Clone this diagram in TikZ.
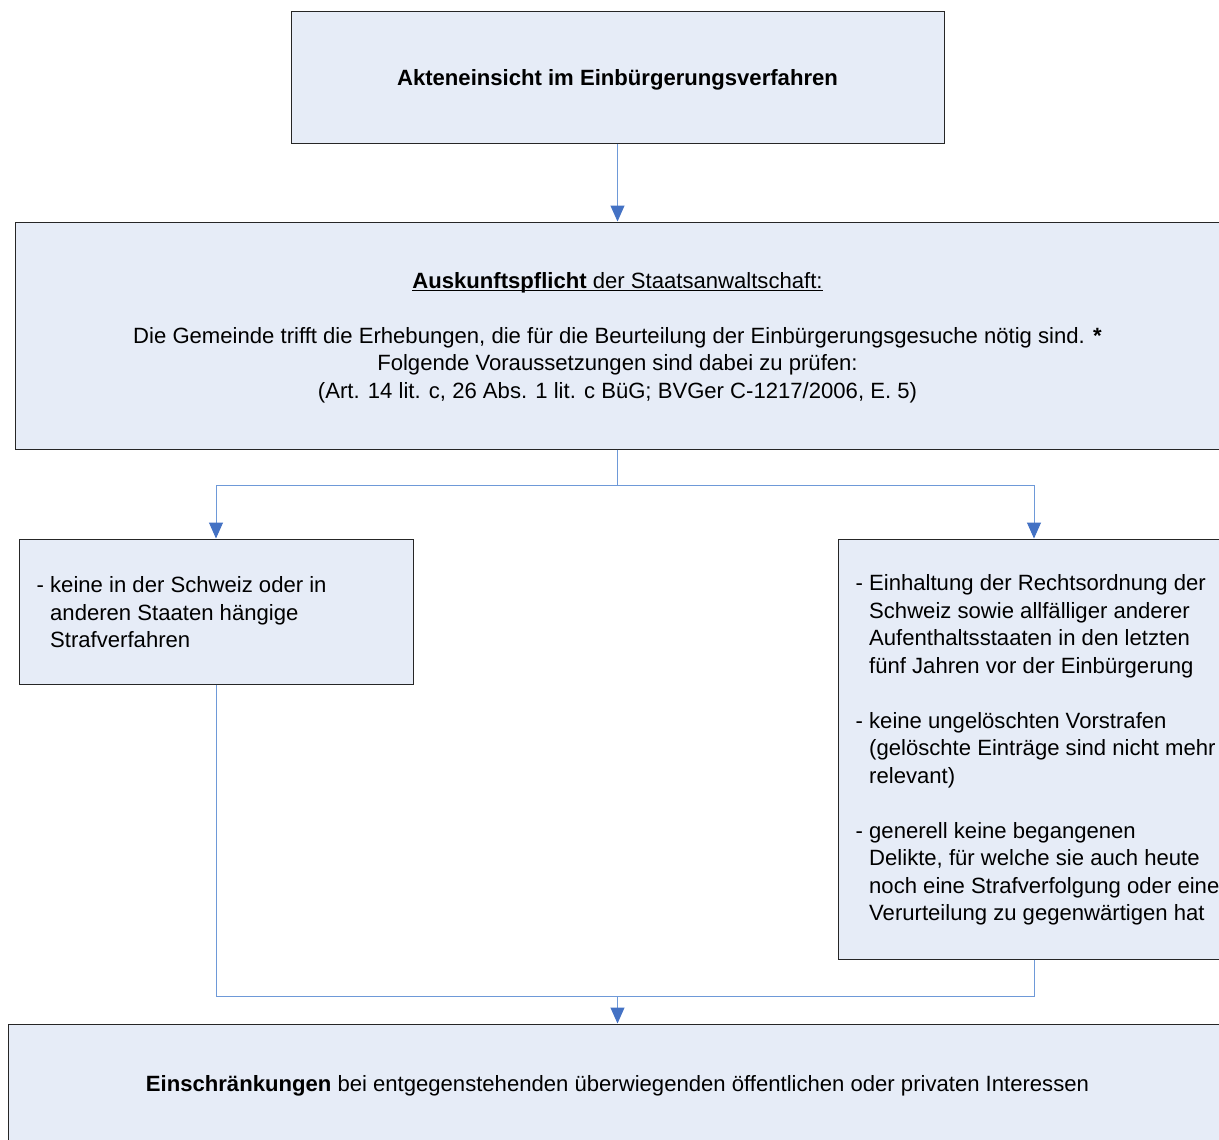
\documentclass[tikz,border=0pt]{standalone}
\usepackage{fontspec}
\setmainfont{Liberation Sans}
\usetikzlibrary{arrows.meta}
\definecolor{boxfill}{HTML}{E6ECF7}
\definecolor{boxline}{HTML}{262626}
\definecolor{linkline}{HTML}{6E99D8}
\definecolor{tipblue}{HTML}{4472C4}
% underline set close to the baseline, ignoring descenders
\newcommand\lowrule[1]{\setbox0\hbox{#1}\rlap{\rule[-2.8pt]{\wd0}{1pt}}\box0}
% indent of continuation lines after "- "
\newcommand\hangpad{\hphantom{-\ }}
\tikzset{
  panel/.style={draw=boxline, fill=boxfill, line width=1pt, rectangle,
    font=\fontsize{22.1}{27.5}\selectfont, inner sep=0pt},
  listtext/.style={font=\fontsize{22.1}{27.5}\selectfont, align=left, inner sep=0pt, anchor=west},
  link/.style={draw=linkline, line width=1pt},
  flow/.style={link, -{Triangle[width=14pt,length=16pt,fill=tipblue,color=tipblue]}}
}
\begin{document}
\begin{tikzpicture}[x=1pt,y=-1pt]
\useasboundingbox (0,0) rectangle (1219,1140);
\clip (0,0) rectangle (1219,1140);
\fill[white] (0,0) rectangle (1219,1140);

% boxes
\node[panel, minimum width=653pt, minimum height=131pt, align=center] (top) at (617.5,77.5) {};
\node[font=\fontsize{22.1}{27.5}\selectfont, inner sep=0pt] (toptext) at (617.5,79.5)
  {\textbf{Akteneinsicht im Einbürgerungsverfahren}};
\node[panel, minimum width=1207pt, minimum height=227pt] (mid) at (618.5,335.5) {};
\node[font=\fontsize{22.1}{27.5}\selectfont, inner sep=0pt, align=center] (midtext) at (617.5,337.5)
  {\lowrule{\textbf{Auskunftspflicht} der Staatsanwaltschaft:}\\[27.5pt]
   Die Gemeinde trifft die Erhebungen, die für die Beurteilung der Einbürgerungsgesuche nötig sind. \textbf{*}\\
   Folgende Voraussetzungen sind dabei zu prüfen:\\
   (Art. 14 lit. c, 26 Abs. 1 lit. c BüG; BVGer C-1217/2006, E. 5)};
\node[panel, minimum width=394pt, minimum height=145pt] (left) at (216,611.5) {};
\node[listtext] (lefttext) at ([xshift=18pt,yshift=-1pt]left.west)
  {- keine in der Schweiz oder in\\
   \hangpad anderen Staaten hängige\\
   \hangpad Strafverfahren};
\node[panel, minimum width=392pt, minimum height=420pt] (right) at (1034,749) {};
\node[listtext] (righttext) at ([xshift=18pt,yshift=-1pt]right.west)
  {- Einhaltung der Rechtsordnung der\\
   \hangpad Schweiz sowie allfälliger anderer\\
   \hangpad Aufenthaltsstaaten in den letzten\\
   \hangpad fünf Jahren vor der Einbürgerung\\[27.5pt]
   - keine ungelöschten Vorstrafen\\
   \hangpad (gelöschte Einträge sind nicht mehr\\
   \hangpad relevant)\\[27.5pt]
   - generell keine begangenen\\
   \hangpad Delikte, für welche sie auch heute\\
   \hangpad noch eine Strafverfolgung oder eine\\
   \hangpad Verurteilung zu gegenwärtigen hat};
\node[panel, minimum width=1218pt, minimum height=120pt] (bottom) at (617,1084) {};
\node[font=\fontsize{22.1}{27.5}\selectfont, inner sep=0pt] (bottomtext) at (617.5,1086)
  {\textbf{Einschränkungen} bei entgegenstehenden überwiegenden öffentlichen oder privaten Interessen};

% connectors
\coordinate (split) at (617.5,485);
\coordinate (join) at (617.5,996);
\draw[flow] (top.south) -- (top.south |- mid.north);
\draw[link] (split |- mid.south) -- (split);
\draw[flow] (split) -| (left.north);
\draw[flow] (split) -| (right.north);
\draw[link] (left.south) |- (join);
\draw[link] (right.south) |- (join);
\draw[flow] (join) -- (join |- bottom.north);
\end{tikzpicture}
\end{document}
